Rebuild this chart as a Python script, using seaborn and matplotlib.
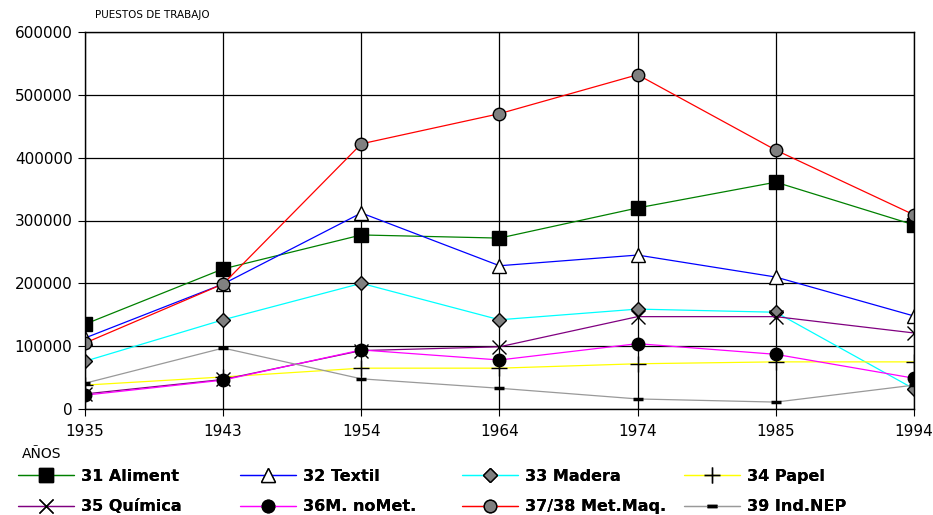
import pandas as pd
import matplotlib.pyplot as plt
import seaborn as sns
from matplotlib.lines import Line2D

# Data (puestos de trabajo por rama)
years = ['1935', '1943', '1954', '1964', '1974', '1985', '1994']
series_names = ['31 Aliment', '32 Textil', '33 Madera', '34 Papel',
                '35 Química', '36M. noMet.', '37/38 Met.Maq.', '39 Ind.NEP']
aliment = [135000, 223000, 277000, 272000, 320000, 361000, 293000]
textil = [113000, 199000, 312000, 228000, 245000, 210000, 148000]
madera = [76000, 142000, 200000, 142000, 159000, 154000, 32000]
papel = [38000, 51000, 65000, 65000, 72000, 75000, 75000]
quimica = [24000, 47000, 93000, 99000, 147000, 147000, 121000]
nomet = [22000, 46000, 94000, 78000, 104000, 87000, 49000]
metmaq = [105000, 199000, 422000, 470000, 532000, 412000, 309000]
indnep = [41000, 97000, 48000, 33000, 16000, 11000, 38000]
values = [aliment, textil, madera, papel, quimica, nomet, metmaq, indnep]

# line colour, marker, marker face, marker edge, marker size
styles = [
    ('#008000', 's', 'black', 'black', 9.5),
    ('#0000ff', '^', 'white', 'black', 9.5),
    ('#00ffff', 'D', '#808080', 'black', 7),
    ('#ffff00', '+', 'black', 'black', 11),
    ('#800080', 'x', 'black', 'black', 9.5),
    ('#ff00ff', 'o', 'black', 'black', 9),
    ('#ff0000', 'o', '#808080', 'black', 9),
    ('#999999', '_', 'black', 'black', 7),
]

df = pd.DataFrame({
    'Año': years * len(series_names),
    'Rama': [n for n in series_names for _ in years],
    'Puestos': [v for vals in values for v in vals],
})

sns.set_style("white")
plt.rcParams['font.family'] = ['DejaVu Sans']
plt.rcParams['text.color'] = 'black'
fig = plt.figure(figsize=(9.33, 5.15), dpi=100)
ax = fig.add_axes([85 / 933, 1 - 409 / 515, (914 - 85) / 933, (409 - 32) / 515])

handles = []
for name, (col, mk, fc, ec, ms) in zip(series_names, styles):
    mew = 2.5 if mk == '_' else 1
    sub = df[df['Rama'] == name]
    sns.lineplot(data=sub, x='Año', y='Puestos', ax=ax, color=col, lw=0.9,
                 marker=mk, markerfacecolor=fc, markeredgecolor=ec,
                 markersize=ms, markeredgewidth=mew, sort=False, legend=False)
    handles.append(Line2D([], [], color=col, lw=0.9, marker=mk,
                          markerfacecolor=fc, markeredgecolor=ec, markersize=ms,
                          markeredgewidth=mew, label=name))

ax.set_xlim(0, len(years) - 1)
ax.set_ylim(0, 600000)
ax.set_yticks(range(0, 600001, 100000))
ax.set_xlabel('')
ax.set_ylabel('')
ax.grid(True, color='black', lw=0.9)
ax.set_axisbelow(True)
for s in ax.spines.values():
    s.set_color('black')
    s.set_linewidth(1)
ax.tick_params(axis='both', labelsize=11, length=5, direction='out', color='black',
               labelcolor='black', left=True, bottom=True, pad=4)
ax.tick_params(axis='x', pad=6)

fig.text(95 / 933, 1 - 15 / 515, 'PUESTOS DE TRABAJO', fontsize=7.5, va='center')
fig.text(22 / 933, 1 - 454 / 515, 'AÑOS', fontsize=10, va='center')

# one small legend per column, two rows each
col_x = [18, 240, 462, 684]
for i, x0 in enumerate(col_x):
    leg = fig.legend(handles=[handles[i], handles[i + 4]], loc='upper left',
                     bbox_to_anchor=(x0 / 933, 1 - 469 / 515), frameon=False,
                     prop={'weight': 'bold', 'size': 11.5}, handlelength=3.5,
                     numpoints=1, labelspacing=0.95, handletextpad=0.45,
                     borderaxespad=0, borderpad=0)
    fig.add_artist(leg)

plt.savefig('out.png', dpi=100)
